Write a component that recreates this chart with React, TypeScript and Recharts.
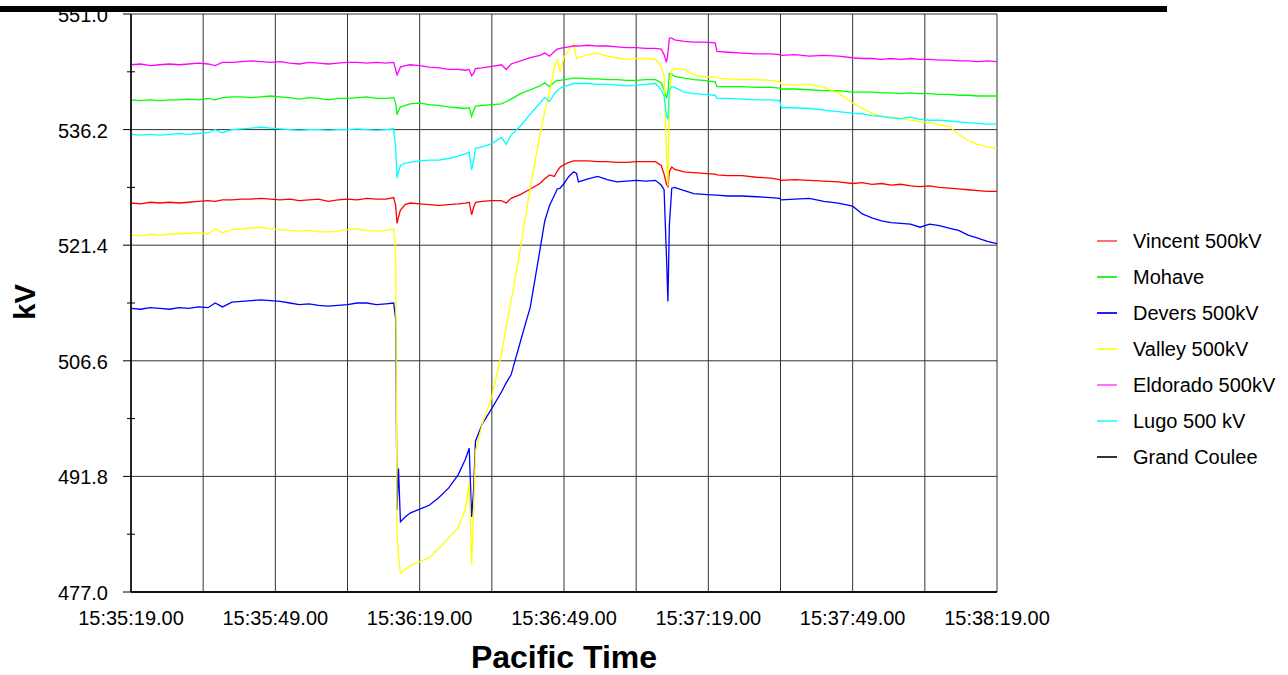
import { CartesianGrid, Legend, Line, LineChart, XAxis, YAxis } from "recharts";

// seconds after 15:35:19
const seconds = [
  0, 2, 4, 6, 8, 10, 12, 14, 16, 17.5,
  19, 21, 23, 25, 27, 29, 31, 33, 35, 37,
  39, 41, 43, 45, 47, 49, 51, 53, 54.6, 55,
  55.3, 55.6, 56, 57, 58, 60, 62, 64, 66, 68,
  69.5, 70.3, 70.8, 71.2, 71.6, 73, 75, 77, 78, 79,
  81, 83, 85, 86, 87, 88, 88.6, 89.2, 90, 91,
  92, 92.6, 93, 95, 97, 99, 101, 103, 105, 107,
  109, 110.2, 110.8, 111.3, 111.6, 111.9, 112.4, 113, 115, 117,
  119, 121.4, 121.8, 124, 127, 130, 133, 134.8, 135.2, 138,
  141, 144, 147, 150, 152, 154, 156, 158, 160, 162,
  164, 166, 168, 170, 172, 174, 176, 178, 180,
];

const vincent = [
  526.8, 526.7, 526.9, 526.8, 526.9, 526.8, 526.9, 527.0, 527.1, 527.0,
  527.2, 527.2, 527.3, 527.3, 527.4, 527.3, 527.2, 527.3, 527.1, 527.2,
  527.3, 527.0, 527.2, 527.3, 527.2, 527.4, 527.3, 527.3, 527.5, 526.5,
  524.2, 525.0, 525.9, 526.6, 526.8, 526.7, 526.6, 526.5, 526.6, 526.7,
  526.8, 526.9, 525.3, 526.2, 526.9, 527.0, 527.1, 527.1, 526.8, 527.4,
  527.9, 528.6, 529.3, 529.9, 530.4, 530.2, 530.9, 531.4, 531.7, 532.0,
  532.2, 532.2, 532.2, 532.2, 532.1, 532.1, 532.0, 532.0, 532.1, 532.1,
  532.1, 531.6, 530.5, 529.2, 528.9, 530.8, 531.4, 531.1, 530.8, 530.7,
  530.6, 530.5, 530.4, 530.3, 530.3, 530.1, 530.0, 529.8, 529.7, 529.8,
  529.7, 529.6, 529.5, 529.3, 529.4, 529.2, 529.3, 529.1, 529.2, 529.0,
  528.9, 529.0, 528.8, 528.7, 528.6, 528.5, 528.4, 528.3, 528.3,
];

const mohave = [
  540.0, 539.9, 540.0, 539.9, 540.0, 540.0, 540.1, 540.0, 540.2, 540.0,
  540.3, 540.4, 540.4, 540.3, 540.4, 540.5, 540.4, 540.3, 540.1, 540.3,
  540.2, 540.0, 540.2, 540.2, 540.3, 540.4, 540.2, 540.2, 540.3, 539.6,
  538.1, 538.6, 539.1, 539.3, 539.5, 539.6, 539.4, 539.3, 539.1, 539.0,
  538.9, 539.0, 537.9, 538.6, 539.2, 539.3, 539.4, 539.5, 539.8, 540.1,
  540.8, 541.3, 541.8, 542.2, 541.7, 542.3, 542.5, 542.5, 542.6, 542.7,
  542.8, 542.8, 542.8, 542.7, 542.7, 542.6, 542.6, 542.5, 542.5, 542.6,
  542.6, 542.2, 541.3, 540.2, 541.0, 543.4, 543.3, 543.0, 542.8, 542.6,
  542.5, 542.3, 541.7, 541.7, 541.7, 541.6, 541.6, 541.5, 541.4, 541.4,
  541.3, 541.2, 541.2, 541.0, 541.0, 541.0, 540.9, 540.9, 540.8, 540.9,
  540.8, 540.8, 540.7, 540.7, 540.6, 540.6, 540.5, 540.5, 540.5,
];

const devers = [
  513.3, 513.2, 513.4, 513.3, 513.2, 513.4, 513.3, 513.5, 513.4, 514.0,
  513.5, 514.1, 514.2, 514.3, 514.4, 514.3, 514.2, 514.0, 513.8, 513.9,
  513.7, 513.6, 513.7, 513.8, 514.0, 514.0, 513.8, 513.9, 514.0, 512.0,
  487.5, 492.8, 486.0, 486.6, 487.1, 487.6, 488.1, 489.1, 490.3, 492.0,
  494.0, 495.4, 486.6, 490.0, 496.3, 498.5, 500.5, 502.6, 503.8, 504.8,
  509.2, 513.5, 520.8, 524.5, 526.5, 527.8, 528.6, 528.7, 529.3, 530.2,
  530.8, 530.6, 529.5, 529.9, 530.2, 529.8, 529.5, 529.6, 529.7, 529.6,
  529.7, 529.1, 528.5, 520.0, 514.2, 524.0, 528.7, 528.8, 528.4, 528.0,
  527.9, 527.8, 527.8, 527.7, 527.7, 527.6, 527.5, 527.4, 527.2, 527.3,
  527.4, 527.0, 526.8, 526.4, 525.4, 524.9, 524.5, 524.3, 524.2, 524.1,
  523.7, 524.1, 523.9, 523.6, 523.3, 522.7, 522.3, 521.9, 521.6,
];

const valley = [
  522.7, 522.6, 522.8, 522.7, 522.8, 522.9, 522.9, 523.0, 522.8, 523.5,
  523.0, 523.4, 523.5, 523.6, 523.7, 523.5, 523.4, 523.3, 523.2, 523.3,
  523.1, 523.1, 523.2, 523.4, 523.5, 523.3, 523.2, 523.3, 523.5, 521.0,
  484.1, 482.0, 479.4, 479.9, 480.4, 480.9, 481.4, 482.6, 483.9, 485.2,
  487.6, 491.0, 480.5, 487.0, 495.0, 498.5, 502.0, 507.5, 511.0, 514.2,
  521.2, 528.9, 535.5, 538.5, 541.0, 544.2, 545.1, 543.6, 545.5, 546.4,
  547.2, 545.3, 545.4, 545.8, 546.0, 545.6, 545.4, 545.2, 545.3, 545.3,
  545.2, 544.3, 543.0, 533.0, 529.0, 540.0, 543.8, 544.0, 543.9, 543.2,
  543.0, 542.9, 542.8, 542.7, 542.6, 542.6, 542.5, 542.3, 542.0, 541.9,
  542.0, 541.6, 540.9, 539.6, 538.9, 538.3, 537.9, 537.8, 537.6, 537.4,
  537.2, 537.1, 536.8, 536.6, 535.6, 534.8, 534.3, 534.0, 533.8,
];

const eldorado = [
  544.5, 544.6, 544.4, 544.5, 544.6, 544.5, 544.6, 544.7, 544.6, 544.4,
  544.8, 544.8, 544.9, 545.0, 544.9, 544.8, 544.9, 544.7, 544.6, 544.8,
  544.7, 544.6, 544.7, 544.8, 544.8, 544.7, 544.8, 544.7, 544.8, 543.9,
  543.2, 543.6, 544.2, 544.4, 544.5, 544.4, 544.2, 544.1, 543.9, 543.9,
  543.8, 543.9, 543.1, 543.4, 544.0, 544.1, 544.3, 544.5, 543.9, 544.6,
  545.0, 545.4, 545.7, 546.0, 545.6, 546.2, 546.5, 546.6, 546.7, 546.8,
  546.9, 546.9, 546.9, 547.0, 546.9, 546.9, 546.8, 546.7, 546.7, 546.6,
  546.6, 546.5, 545.8, 544.8, 546.0, 547.9, 547.9, 547.7, 547.5, 547.4,
  547.4, 547.3, 546.2, 546.1, 546.0, 545.9, 545.9, 545.8, 545.7, 545.8,
  545.6, 545.7, 545.6, 545.4, 545.3, 545.3, 545.2, 545.3, 545.2, 545.3,
  545.2, 545.2, 545.1, 545.1, 545.0, 545.0, 544.9, 545.0, 544.9,
];

const lugo = [
  535.6, 535.5, 535.6, 535.5, 535.6, 535.7, 535.6, 535.7, 535.8, 536.2,
  535.8, 536.2, 536.3, 536.4, 536.5, 536.4, 536.3, 536.2, 536.1, 536.2,
  536.2, 536.1, 536.2, 536.2, 536.3, 536.2, 536.1, 536.2, 536.3, 534.0,
  530.0, 530.8, 531.6, 531.9, 532.0, 532.2, 532.3, 532.3, 532.5, 532.8,
  533.1, 533.3, 531.0, 532.2, 533.8, 534.0, 534.4, 535.2, 534.3, 535.5,
  536.7, 538.2, 539.6, 540.3, 539.8, 540.8, 541.2, 541.5, 541.7, 541.9,
  542.1, 542.1, 542.1, 542.1, 542.0, 542.0, 541.9, 541.8, 541.9, 542.0,
  542.1, 541.3, 540.5, 538.0, 537.5, 541.3, 541.7, 541.6, 541.0, 540.8,
  540.7, 540.6, 540.2, 540.2, 540.1, 540.0, 540.0, 539.9, 539.0, 539.0,
  538.9, 538.7, 538.5, 538.3, 538.2, 538.0, 537.9, 537.7, 537.6, 537.8,
  537.5, 537.4, 537.4, 537.3, 537.2, 537.1, 537.0, 536.9, 536.9,
];

// no samples for Grand Coulee in this window
const grandCoulee: number[] = [];

const timeLabels = [
  "15:35:19.00",
  "15:35:49.00",
  "15:36:19.00",
  "15:36:49.00",
  "15:37:19.00",
  "15:37:49.00",
  "15:38:19.00",
];
const gridSeconds = [0, 15, 30, 45, 60, 75, 90, 105, 120, 135, 150, 165, 180];
const majorKv = [477.0, 491.8, 506.6, 521.4, 536.2, 551.0];
const allKv = [477.0, 484.4, 491.8, 499.2, 506.6, 514.0, 521.4, 528.8, 536.2, 543.6, 551.0];

const series = [
  { key: "vincent", name: "Vincent 500kV", color: "#ff0000", legend: "#ff7070", values: vincent },
  { key: "mohave", name: "Mohave", color: "#00ff00", legend: "#30f030", values: mohave },
  { key: "devers", name: "Devers 500kV", color: "#0000ff", legend: "#2020ff", values: devers },
  { key: "valley", name: "Valley 500kV", color: "#ffff00", legend: "#ffff30", values: valley },
  { key: "eldorado", name: "Eldorado 500kV", color: "#ff00ff", legend: "#ff70ff", values: eldorado },
  { key: "lugo", name: "Lugo 500 kV", color: "#00ffff", legend: "#50ffff", values: lugo },
  { key: "grandCoulee", name: "Grand Coulee", color: "#000000", legend: "#333333", values: grandCoulee },
];

const rows = seconds.map((t, i) => {
  const row: Record<string, number | undefined> = { t };
  series.forEach((s) => {
    row[s.key] = s.values[i];
  });
  return row;
});

const FONT = "'Liberation Sans', Arial, sans-serif";

function KvTick({ x, y, payload }: any) {
  const v = Number(payload.value);
  const major = majorKv.some((m) => Math.abs(m - v) < 0.01);
  if (!major) {
    return <line x1={x - 4} y1={y} x2={x + 4} y2={y} stroke="#000" strokeWidth={1} />;
  }
  return (
    <g>
      <line x1={x - 8} y1={y} x2={x} y2={y} stroke="#000" strokeWidth={1} />
      <text x={x - 23} y={y} dy={8} textAnchor="end" fontSize={20} fill="#000" fontFamily={FONT}>
        {v.toFixed(1)}
      </text>
    </g>
  );
}

function formatTime(value: number) {
  return value % 30 === 0 ? timeLabels[value / 30] : "";
}

function LegendBox() {
  return (
    <div style={{ fontFamily: FONT, fontSize: 20, color: "#000" }}>
      {series.map((s) => (
        <div key={s.key} style={{ display: "flex", alignItems: "center", height: 36 }}>
          <span
            style={{
              display: "inline-block",
              width: 20,
              height: 2,
              background: s.legend,
              marginRight: 16,
            }}
          />
          {s.name}
        </div>
      ))}
    </div>
  );
}

export default function App() {
  return (
    <div style={{ position: "absolute", left: 0, top: 0, width: 1288, height: 675, background: "#fff", fontFamily: FONT, overflow: "hidden" }}>
      <LineChart width={1288} height={675} data={rows} margin={{ top: 14, right: 291, left: 0, bottom: 0 }}>
        <CartesianGrid
          stroke="#333"
          strokeWidth={1}
          horizontalValues={majorKv}
          verticalValues={gridSeconds}
        />
        <XAxis
          dataKey="t"
          type="number"
          domain={[0, 180]}
          ticks={gridSeconds}
          interval={0}
          tickFormatter={formatTime}
          tickLine={false}
          tickSize={0}
          tickMargin={19}
          height={83}
          axisLine={{ stroke: "#111", strokeWidth: 2 }}
          tick={{ fill: "#000", fontSize: 20, fontFamily: FONT }}
        />
        <YAxis
          type="number"
          domain={[477, 551]}
          ticks={allKv}
          interval={0}
          width={131}
          tickLine={false}
          tickSize={0}
          tickMargin={0}
          axisLine={{ stroke: "#000", strokeWidth: 1.5 }}
          tick={<KvTick />}
          allowDataOverflow
        />
        <Legend
          layout="vertical"
          align="center"
          verticalAlign="middle"
          wrapperStyle={{ left: 1097, top: 223, width: 191 }}
          content={<LegendBox />}
        />
        {series.map((s) => (
          <Line
            key={s.key}
            type="linear"
            dataKey={s.key}
            name={s.name}
            stroke={s.color}
            strokeWidth={1.3}
            dot={false}
            isAnimationActive={false}
            connectNulls
          />
        ))}
      </LineChart>
      <div style={{ position: "absolute", left: 0, top: 6, width: 1167, height: 6, background: "#000", zIndex: 5 }} />
      <div
        style={{
          position: "absolute",
          left: 25,
          top: 302,
          transform: "translate(-50%, -50%) rotate(-90deg)",
          fontSize: 29,
          lineHeight: "29px",
          fontWeight: "bold",
          color: "#000",
          whiteSpace: "nowrap",
        }}
      >
        kV
      </div>
      <div
        style={{
          position: "absolute",
          left: 564,
          top: 642,
          transform: "translateX(-50%)",
          fontSize: 32,
          lineHeight: "30px",
          fontWeight: "bold",
          color: "#000",
          whiteSpace: "nowrap",
        }}
      >
        Pacific Time
      </div>
    </div>
  );
}
